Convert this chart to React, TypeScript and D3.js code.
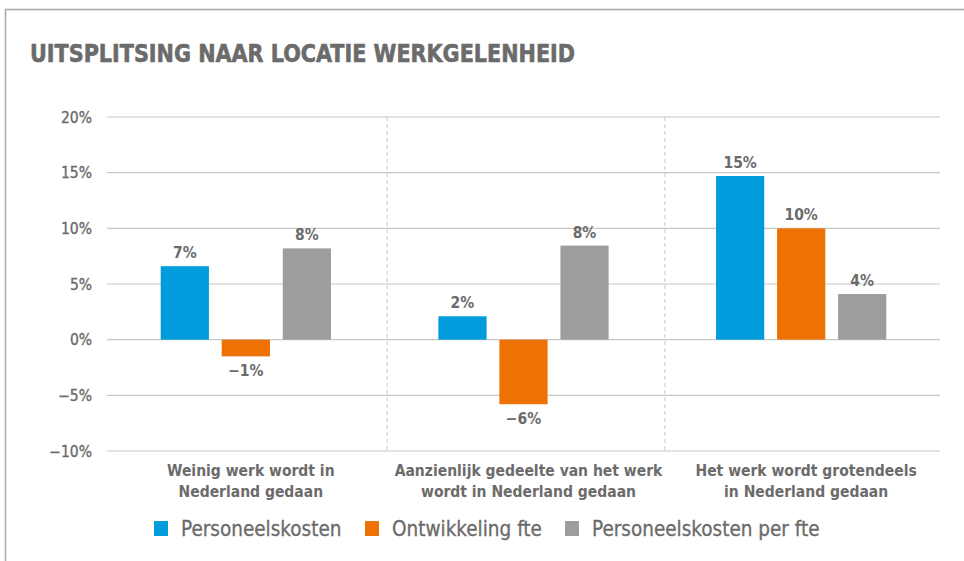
import React from "react";
import * as d3 from "d3";

const categories = [
  ["Weinig werk wordt in", "Nederland gedaan"],
  ["Aanzienlijk gedeelte van het werk", "wordt in Nederland gedaan"],
  ["Het werk wordt grotendeels", "in Nederland gedaan"],
];
const seriesNames = ["Personeelskosten", "Ontwikkeling fte", "Personeelskosten per fte"];
const seriesColors = ["#009cdb", "#ee7203", "#9d9d9c"];
const personeelskosten = [6.6, 2.1, 14.7];
const ontwikkelingFte = [-1.5, -5.8, 10.0];
const personeelskostenPerFte = [8.2, 8.45, 4.1];
const valueLabels = [
  ["7%", "2%", "15%"],
  ["\u22121%", "\u22126%", "10%"],
  ["8%", "8%", "4%"],
];
const yTicks = [-10, -5, 0, 5, 10, 15, 20];
const title = "UITSPLITSING NAAR LOCATIE WERKGELENHEID";

const series = [personeelskosten, ontwikkelingFte, personeelskostenPerFte];
const textColor = "#6b6b6b";
const condensed = "'DejaVu Sans Condensed', 'Liberation Sans Narrow', sans-serif";

export default function App() {
  const W = 964, H = 561;
  const left = 107, right = 940, top = 117, bottom = 451;
  const y = d3.scaleLinear().domain([-10, 20]).range([bottom, top]);
  const x0 = d3.scaleBand().domain(d3.range(3).map(String)).range([left, right]).padding(0);
  const bw = x0.bandwidth();
  const x1 = d3.scaleBand().domain(d3.range(3).map(String)).range([0, bw]).paddingInner(0.21).paddingOuter(0.88);

  return (
    <svg width={W} height={H} style={{ position: "absolute", left: 0, top: 0, background: "#fff" }}>
      <path d={`M5.5,${H} V9.5 H${W}`} fill="none" stroke="#a8a8a8" strokeWidth={1.5} />
      <text x={30} y={62} fontFamily={condensed} fontWeight="bold" fontSize={25} fill={textColor}
        stroke={textColor} strokeWidth={0.6}
        textLength={545} lengthAdjust="spacingAndGlyphs">{title}</text>
      {yTicks.map((t) => (
        <g key={t}>
          <line x1={left} x2={right} y1={y(t)} y2={y(t)} stroke="#c8c8c8" strokeWidth={1.2} />
          <text x={92} y={y(t)} dy="0.36em" textAnchor="end" fontFamily={condensed} fontSize={15.5}
            fill={textColor} stroke={textColor} strokeWidth={0.35}>{t < 0 ? "\u2212" + Math.abs(t) + "%" : t + "%"}</text>
        </g>
      ))}
      {[1, 2].map((i) => (
        <line key={i} x1={x0(String(i))! + 2.5} x2={x0(String(i))! + 2.5} y1={top} y2={bottom}
          stroke="#c8c8c8" strokeWidth={1} strokeDasharray="4,3" />
      ))}
      {categories.map((cat, ci) => (
        <g key={ci} transform={`translate(${x0(String(ci))},0)`}>
          {series.map((s, si) => {
            const v = s[ci];
            const bx = x1(String(si))!;
            const y0 = y(0), yv = y(v);
            return (
              <g key={si}>
                <rect x={bx} y={Math.min(y0, yv)} width={x1.bandwidth()} height={Math.abs(yv - y0)}
                  fill={seriesColors[si]} />
                <text x={bx + x1.bandwidth() / 2} y={v >= 0 ? yv - 8 : yv + 20} textAnchor="middle"
                  fontFamily={condensed} fontWeight="bold" fontSize={15.5} fill={textColor}>
                  {valueLabels[si][ci]}
                </text>
              </g>
            );
          })}
          {cat.map((line, li) => (
            <text key={li} x={bw / 2 + 5} y={476 + li * 21} textAnchor="middle" fontFamily={condensed}
              fontWeight="bold" fontSize={15.5} fill={textColor}>{line}</text>
          ))}
        </g>
      ))}
      {seriesNames.map((n, i) => {
        const xs = [154, 365, 565][i];
        return (
          <g key={n}>
            <rect x={xs} y={521} width={14} height={15} fill={seriesColors[i]} />
            <text x={xs + 27} y={536} fontFamily={condensed} fontSize={20.5} fill={textColor}
              stroke={textColor} strokeWidth={0.3}>{n}</text>
          </g>
        );
      })}
    </svg>
  );
}
